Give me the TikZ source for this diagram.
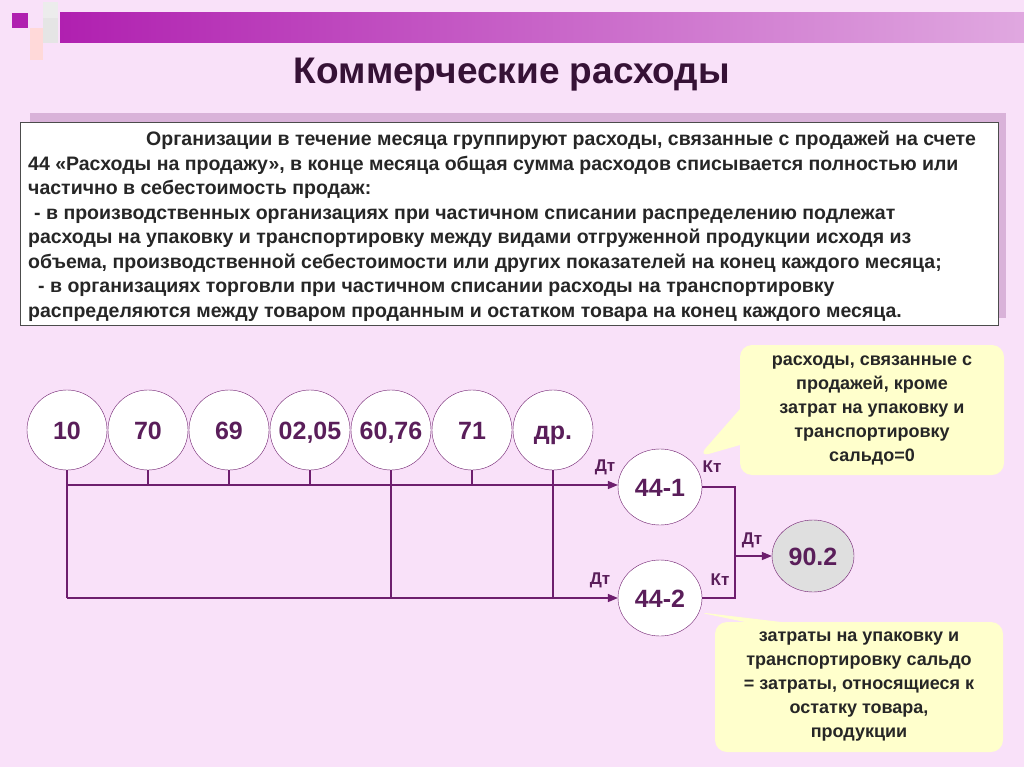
\documentclass[tikz,border=0pt]{standalone}
\usepackage{fontspec}
\setmainfont{Liberation Sans}
\usetikzlibrary{arrows,positioning,shapes.callouts,shapes.geometric,shadings}
\definecolor{bgpink}{HTML}{F9E1F9}
\definecolor{linepurple}{HTML}{6E1E6E}
\definecolor{txtpurple}{HTML}{5A1E5A}
\definecolor{notefill}{HTML}{FFFFCC}
\definecolor{barleft}{HTML}{B020B0}
\definecolor{barright}{HTML}{E0A8E0}
\tikzset{
  acct/.style={circle,draw=linepurple,fill=white,minimum size=80pt,inner sep=0pt,
    font=\bfseries\fontsize{25}{25}\selectfont,text=txtpurple,text height=18pt,text depth=0pt},
  sub/.style={ellipse,draw=linepurple,fill=white,minimum width=84pt,minimum height=76pt,
    inner sep=0pt,font=\bfseries\fontsize{25}{25}\selectfont,text=txtpurple,text height=18pt,text depth=0pt},
  side/.style={font=\bfseries\fontsize{17}{17}\selectfont,text=txtpurple},
  note/.style={rectangle callout,rounded corners=12pt,fill=notefill,align=center,
    callout pointer width=36pt,
    font=\bfseries\fontsize{18}{24}\selectfont,text=black!85,inner sep=8pt},
  wire/.style={draw=linepurple,line width=1.3pt},
}
\begin{document}
\begin{tikzpicture}[x=1pt,y=-1pt,>={triangle 45}]
  \fill[bgpink] (0,0) rectangle (1024,767);
  \useasboundingbox (0,0) rectangle (1024,767);
  % header bar
  \shade[left color=barleft,right color=barright] (60,13) rectangle (1024,43);
  \fill[barleft] (12,13) rectangle (28,28);
  \fill[gray!15] (43,2) rectangle (58,18);
  \fill[gray!20] (43,18) rectangle (58,43);
  \fill[pink!60] (30,28) rectangle (43,60);
  % title
  \node[font=\bfseries\fontsize{37}{37}\selectfont,text=txtpurple!60!black] (title) at (512,75) {Коммерческие расходы};
  % text box
  \fill[violet!30] (30,113) rectangle (1006,318);
  \node[draw=black!70,fill=white,minimum width=978pt,minimum height=203pt,anchor=north west,
    inner sep=0pt] (box) at (20,122) {};
  \node[anchor=north west,align=left,font=\bfseries\fontsize{19.5}{24.5}\selectfont,
    text=black!85,inner sep=0pt] (boxtext) at (28,131) {%
    \hspace*{118pt}Организации в течение месяца группируют расходы, связанные с продажей на счете\\
    44 «Расходы на продажу», в конце месяца общая сумма расходов списывается полностью или\\
    частично в себестоимость продаж:\\
    \hspace*{6pt}- в производственных организациях при частичном списании распределению подлежат\\
    расходы на упаковку и транспортировку между видами отгруженной продукции исходя из\\
    объема, производственной себестоимости или других показателей на конец каждого месяца;\\
    \hspace*{10pt}- в организациях торговли при частичном списании расходы на транспортировку\\
    распределяются между товаром проданным и остатком товара на конец каждого месяца.};
  % accounts
  \node[acct] (a10) at (67,430) {10};
  \node[acct] (a70) at (148,430) {70};
  \node[acct] (a69) at (229,430) {69};
  \node[acct] (a02) at (310,430) {02,05};
  \node[acct] (a60) at (391,430) {60,76};
  \node[acct] (a71) at (472,430) {71};
  \node[acct] (adr) at (553,430) {др.};
  \node[sub] (s1) at (660,487) {44-1};
  \node[sub] (s2) at (660,598) {44-2};
  \node[sub,minimum width=82pt,minimum height=72pt,fill=gray!25] (s90) at (813,556) {90.2};
  \coordinate (top10) at (67,485);
  \coordinate (bot10) at (67,598);
  \coordinate (join) at (735,556);
  % wiring
  \foreach \a in {a10,a70,a69,a02,a60,a71,adr}
    \draw[wire] (\a.south) -- (\a.south |- top10);
  \draw[wire] (a10.south) -- (bot10);
  \draw[wire] (a60.south |- top10) -- (a60.south |- bot10);
  \draw[wire] (adr.south |- top10) -- (adr.south |- bot10);
  \draw[wire,->] (top10) -- (top10 -| s1.west);
  \draw[wire,->] (bot10) -- (bot10 -| s2.west);
  \draw[wire] (s1.east) -| (join) |- (s2.east);
  \draw[wire,->] (join) -- (s90.west);
  \node[side] (dt1) at (605,467) {Дт};
  \node[side] (kt1) at (712,467) {Кт};
  \node[side] (dt2) at (600,580) {Дт};
  \node[side] (kt2) at (720,580) {Кт};
  \node[side] (dt3) at (752,540) {Дт};
  % notes
  \node[note,minimum width=264pt,minimum height=130pt,callout absolute pointer={(698,457)}]
    (note1) at (872,410) {расходы, связанные с\\продажей, кроме\\затрат на упаковку и\\транспортировку\\сальдо=0};
  \node[note,minimum width=288pt,minimum height=130pt,callout absolute pointer={(697,612)}]
    (note2) at (859,687) {затраты на упаковку и\\транспортировку сальдо\\= затраты, относящиеся к\\остатку товара,\\продукции};
\end{tikzpicture}
\end{document}
